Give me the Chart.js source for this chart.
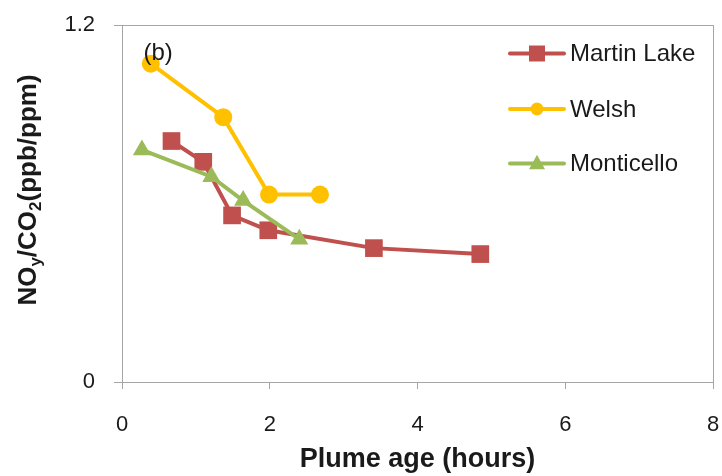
<!DOCTYPE html>
<html>
<head>
<meta charset="utf-8">
<script src="https://cdn.jsdelivr.net/npm/chart.js@4.4.1/dist/chart.umd.min.js"></script>
<style>
  html, body { margin: 0; padding: 0; background: #ffffff; }
  #wrap { width: 722px; height: 476px; position: relative; }
</style>
</head>
<body>
<div id="wrap"><canvas id="c"></canvas></div>
<script>
// ---- Data ----
const seriesNames = ["Martin Lake", "Welsh", "Monticello"];
const martinX = [0.67, 1.10, 1.49, 1.98, 3.41, 4.85];
const martinY = [0.81, 0.74, 0.56, 0.51, 0.45, 0.43];
const welshX = [0.39, 1.37, 1.99, 2.68];
const welshY = [1.07, 0.89, 0.63, 0.63];
const montX = [0.27, 1.21, 1.64, 2.40];
const montY = [0.78, 0.69, 0.61, 0.48];
const xTicks = [0, 2, 4, 6, 8];
const yTicks = [0, 1.2];
const xTitle = "Plume age (hours)";
const panelLabel = "(b)";

// ---- Styles ----
const FONT = "'Liberation Sans', Arial, sans-serif";
const colors = ["#C0504D", "#FFC000", "#9BBB59"];
const markers = ["rect", "circle", "triangle"];
const markerRadius = [12.5, 9, 10.5];
const axisGrey = "#A6A6A6";
const textColor = "#1a1a1a";

function pts(xs, ys) { return xs.map((x, i) => ({ x: x, y: ys[i] })); }

const datasets = [
  { label: seriesNames[0], data: pts(martinX, martinY), order: 3 },
  { label: seriesNames[1], data: pts(welshX, welshY), order: 2 },
  { label: seriesNames[2], data: pts(montX, montY), order: 1 }
].map((d, i) => Object.assign(d, {
  showLine: true,
  borderColor: colors[i],
  backgroundColor: colors[i],
  pointBackgroundColor: colors[i],
  pointBorderColor: colors[i],
  pointBorderWidth: 0,
  borderWidth: 4,
  pointStyle: markers[i],
  pointRadius: markerRadius[i],
  pointHoverRadius: markerRadius[i],
  tension: 0,
  clip: false
}));

function drawMarker(ctx, style, x, y, size, color) {
  ctx.save();
  ctx.fillStyle = color;
  ctx.beginPath();
  if (style === "rect") {
    ctx.rect(x - size / 2, y - size / 2, size, size);
  } else if (style === "circle") {
    ctx.arc(x, y, size / 2, 0, Math.PI * 2);
  } else {
    const h = size * 0.9;
    ctx.moveTo(x, y - h * 0.6);
    ctx.lineTo(x + size / 2, y + h * 0.4);
    ctx.lineTo(x - size / 2, y + h * 0.4);
    ctx.closePath();
  }
  ctx.fill();
  ctx.restore();
}

const decorPlugin = {
  id: "decor",
  afterDraw(chart) {
    const ctx = chart.ctx;
    const a = chart.chartArea;
    // right border of plot area
    ctx.save();
    ctx.strokeStyle = axisGrey;
    ctx.lineWidth = 1;
    ctx.beginPath();
    ctx.moveTo(Math.round(a.right) + 0.5, a.top);
    ctx.lineTo(Math.round(a.right) + 0.5, a.bottom);
    ctx.stroke();
    ctx.restore();

    // panel label (b)
    const xs = chart.scales.x, ys = chart.scales.y;
    ctx.save();
    ctx.fillStyle = textColor;
    ctx.font = "24px " + FONT;
    ctx.textBaseline = "alphabetic";
    ctx.textAlign = "left";
    ctx.fillText(panelLabel, xs.getPixelForValue(0.29), ys.getPixelForValue(1.083));
    ctx.restore();

    // legend
    const legX0 = 510, legX1 = 564, legYs = [53.5, 109, 163.5];
    const legSizes = [16, 13, 16];
    seriesNames.forEach((name, i) => {
      const y = legYs[i];
      ctx.save();
      ctx.strokeStyle = colors[i];
      ctx.lineWidth = 4;
      ctx.lineCap = "round";
      ctx.beginPath();
      ctx.moveTo(legX0, y);
      ctx.lineTo(legX1, y);
      ctx.stroke();
      ctx.restore();
      drawMarker(ctx, markers[i], (legX0 + legX1) / 2, y, legSizes[i], colors[i]);
      ctx.save();
      ctx.fillStyle = textColor;
      ctx.font = "24px " + FONT;
      ctx.textBaseline = "middle";
      ctx.textAlign = "left";
      ctx.fillText(name, 570, y + 1);
      ctx.restore();
    });

    // y axis title with subscripts: NOy/CO2(ppb/ppm)
    const parts = [
      { t: "NO", sub: false }, { t: "y", sub: true },
      { t: "/CO", sub: false }, { t: "2", sub: true },
      { t: "(ppb/ppm)", sub: false }
    ];
    const big = "bold 26px " + FONT, small = "bold 17px " + FONT;
    ctx.save();
    let total = 0;
    parts.forEach(p => { ctx.font = p.sub ? small : big; p.w = ctx.measureText(p.t).width; total += p.w; });
    ctx.translate(36, 190);
    ctx.rotate(-Math.PI / 2);
    ctx.fillStyle = textColor;
    ctx.textBaseline = "alphabetic";
    ctx.textAlign = "left";
    let cx = -total / 2;
    parts.forEach(p => {
      ctx.font = p.sub ? small : big;
      ctx.fillText(p.t, cx, p.sub ? 5 : 0);
      cx += p.w;
    });
    ctx.restore();
  }
};

function zeroPad(scale) {
  scale.paddingLeft = 0; scale.paddingRight = 0;
  scale.paddingTop = 0; scale.paddingBottom = 0;
}

new Chart(document.getElementById("c"), {
  type: "scatter",
  data: { datasets: datasets },
  options: {
    responsive: true,
    maintainAspectRatio: false,
    animation: false,
    layout: { autoPadding: false, padding: { top: 25, right: 9, left: 0, bottom: 0 } },
    plugins: { legend: { display: false }, tooltip: { enabled: false } },
    scales: {
      x: {
        type: "linear",
        min: xTicks[0],
        max: xTicks[xTicks.length - 1],
        afterBuildTicks(scale) { scale.ticks = xTicks.map(v => ({ value: v })); },
        ticks: { color: textColor, font: { family: FONT, size: 22 }, padding: 23, maxRotation: 0,
                 callback: v => String(v) },
        grid: { drawOnChartArea: false, drawTicks: true, tickLength: 7, color: axisGrey, lineWidth: 1 },
        border: { display: true, color: axisGrey, width: 1 },
        title: { display: true, text: xTitle, color: textColor,
                 font: { family: FONT, size: 27, weight: "bold" }, padding: { top: 0, bottom: 0 } },
        afterFit(scale) {
          scale.height = 94;
          zeroPad(scale);
        }
      },
      y: {
        type: "linear",
        min: yTicks[0],
        max: yTicks[yTicks.length - 1],
        afterBuildTicks(scale) { scale.ticks = yTicks.map(v => ({ value: v })); },
        ticks: { color: textColor, font: { family: FONT, size: 22 }, padding: 19,
                 callback: v => String(v) },
        grid: { drawOnChartArea: true, drawTicks: true, tickLength: 8, color: axisGrey, lineWidth: 1 },
        border: { display: true, color: axisGrey, width: 1 },
        afterFit(scale) {
          scale.width = 122;
          zeroPad(scale);
        }
      }
    }
  },
  plugins: [decorPlugin]
});
</script>
</body>
</html>
